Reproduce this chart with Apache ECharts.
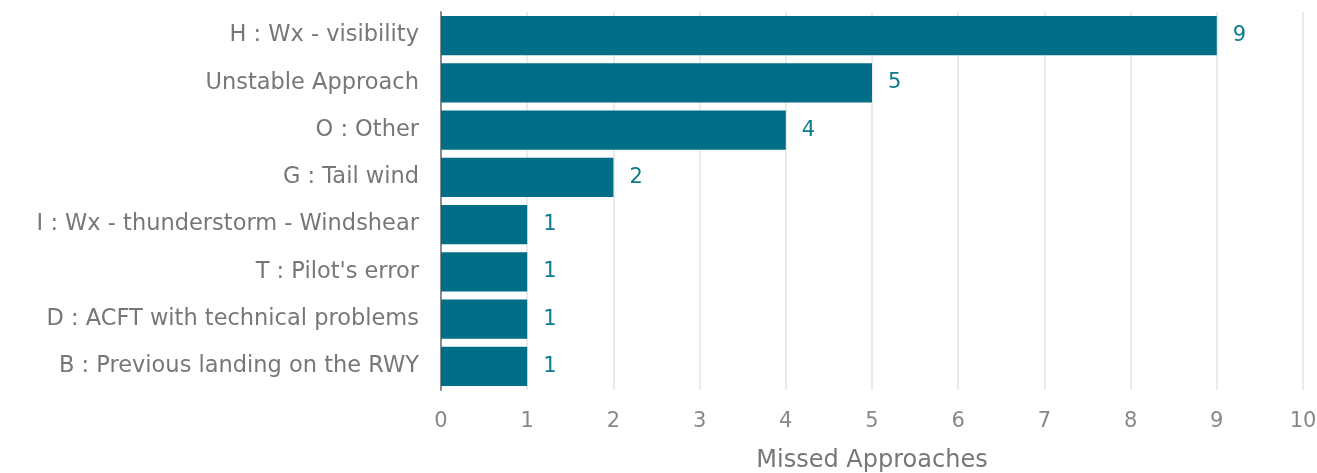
<!DOCTYPE html>
<html>
<head>
<meta charset="utf-8">
<script src="https://cdn.jsdelivr.net/npm/echarts@6/dist/echarts.min.js"></script>
<style>html,body{margin:0;padding:0;background:#fff;overflow:hidden;}#c{width:1317px;height:473px;}</style>
</head>
<body>
<div id="c"></div>
<script>
const categories = [
  "H : Wx - visibility",
  "Unstable Approach",
  "O : Other",
  "G : Tail wind",
  "I : Wx - thunderstorm - Windshear",
  "T : Pilot's error",
  "D : ACFT with technical problems",
  "B : Previous landing on the RWY"
];
const values = [9, 5, 4, 2, 1, 1, 1, 1];
const xTicks = [0, 1, 2, 3, 4, 5, 6, 7, 8, 9, 10];
const axisName = "Missed Approaches";

const font = "'DejaVu Sans', sans-serif";
const chart = echarts.init(document.getElementById('c'), null, {renderer: 'canvas', width: 1317, height: 473});
chart.setOption({
  animation: false,
  grid: {left: 441, right: 14, top: 12, bottom: 83, containLabel: false, outerBoundsMode: 'none'},
  xAxis: {
    type: 'value', min: xTicks[0], max: xTicks[xTicks.length - 1], interval: 1,
    name: axisName, nameLocation: 'middle', nameGap: 59,
    nameTextStyle: {fontFamily: font, fontSize: 24, color: '#777'},
    axisLine: {show: false}, axisTick: {show: false},
    axisLabel: {fontFamily: font, fontSize: 21, color: '#888', margin: 21},
    splitLine: {show: true, lineStyle: {color: '#ebebeb', width: 2}}
  },
  yAxis: {
    type: 'category', data: categories, inverse: true,
    axisLine: {show: true, lineStyle: {color: '#8a8a8a', width: 2}},
    axisTick: {show: false},
    axisLabel: {fontFamily: font, fontSize: 22.5, color: '#777', margin: 22}
  },
  series: [{
    type: 'bar', data: values, barCategoryGap: '17%',
    itemStyle: {color: '#006e87'},
    label: {show: true, position: 'right', distance: 16, fontFamily: font, fontSize: 21, color: '#0e7a8e'}
  }]
});
</script>
</body>
</html>
